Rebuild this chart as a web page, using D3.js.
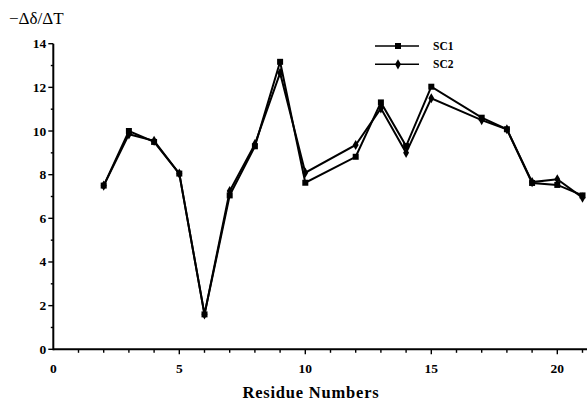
<!DOCTYPE html>
<html><head><meta charset="utf-8">
<script src="https://cdn.jsdelivr.net/npm/d3@7"></script>
<style>body{margin:0;background:#fff}svg{display:block}</style>
</head><body>
<svg id="c" width="587" height="404"></svg>
<script>
const residues = [2,3,4,5,6,7,8,9,10,12,13,14,15,17,18,19,20,21];
const sc1 = [7.5,10.0,9.5,8.05,1.6,7.05,9.3,13.17,7.63,8.82,11.31,9.31,12.03,10.61,10.08,7.62,7.53,7.05];
const sc2 = [7.5,9.85,9.55,8.05,1.6,7.25,9.4,12.66,8.09,9.36,11.04,9.0,11.5,10.5,10.08,7.66,7.79,6.95];
const xTicks = [0,5,10,15,20];
const yTicks = [0,2,4,6,8,10,12,14];
const seriesNames = ["SC1","SC2"];

const svg = d3.select("#c");
const x = d3.scaleLinear().domain([0,22]).range([53.3, 53.3+22*25.2]);
const y = d3.scaleLinear().domain([0,14]).range([349.3, 43.7]);
const serif = "'Liberation Serif','DejaVu Serif',serif";

// x axis
const xa = svg.append("g").attr("transform","translate(0,"+y(0)+")");
xa.append("line").attr("x1",x(0)).attr("x2",587).attr("stroke","#000").attr("stroke-width",2);
xa.selectAll(".mt").data(d3.range(1,22)).enter().append("line")
  .attr("x1",d=>x(d)).attr("x2",d=>x(d)).attr("y1",0).attr("y2",d=>d%5===0?5:3.5)
  .attr("stroke","#000").attr("stroke-width",1.4);
xa.selectAll("text").data(xTicks).enter().append("text")
  .attr("x",d=>x(d)).attr("y",24).attr("text-anchor","middle")
  .attr("font-family",serif).attr("font-weight","bold").attr("font-size",13.5).text(d=>d);

// y axis
const ya = svg.append("g").attr("transform","translate("+x(0)+",0)");
ya.append("line").attr("y1",y(0)+1).attr("y2",y(14)).attr("stroke","#000").attr("stroke-width",2);
ya.selectAll(".mt").data(d3.range(0,15)).enter().append("line")
  .attr("y1",d=>y(d)).attr("y2",d=>y(d)).attr("x1",d=>d%2===0?-5:-2.5).attr("x2",0)
  .attr("stroke","#000").attr("stroke-width",1.4);
ya.selectAll("text").data(yTicks).enter().append("text")
  .attr("x",-7).attr("y",d=>y(d)+4.5).attr("text-anchor","end")
  .attr("font-family",serif).attr("font-weight","bold").attr("font-size",13.5).text(d=>d);

// titles
svg.append("text").attr("x",9).attr("y",24).attr("font-family",serif).attr("font-size",17).text("\u2212\u0394\u03b4/\u0394T");
svg.append("text").attr("x",311).attr("y",398).attr("text-anchor","middle").attr("font-family",serif)
  .attr("font-weight","bold").attr("font-size",16.5).attr("letter-spacing",0.8).text("Residue Numbers");

// lines
const line = d3.line().x((d,i)=>x(residues[i])).y(d=>y(d));
[sc1,sc2].forEach(s=>{
  svg.append("path").attr("d",line(s)).attr("fill","none").attr("stroke","#000").attr("stroke-width",2);
});
const sq = d3.symbol().type(d3.symbolSquare).size(36);
const di = d3.symbol().type(d3.symbolDiamond).size(30);
svg.selectAll(".p1").data(sc1).enter().append("path").attr("d",sq)
  .attr("transform",(d,i)=>"translate("+x(residues[i])+","+y(d)+")").attr("fill","#000");
svg.selectAll(".p2").data(sc2).enter().append("path").attr("d",di)
  .attr("transform",(d,i)=>"translate("+x(residues[i])+","+y(d)+")").attr("fill","#000");

// legend
const lg = svg.append("g");
seriesNames.forEach((n,i)=>{
  const yy = 46 + i*18.3;
  lg.append("line").attr("x1",375).attr("x2",419).attr("y1",yy).attr("y2",yy).attr("stroke","#000").attr("stroke-width",1.6);
  lg.append("path").attr("d",i===0?sq:di).attr("transform","translate(398,"+yy+")").attr("fill","#000");
  lg.append("text").attr("x",433).attr("y",yy+4).attr("font-family",serif).attr("font-weight","bold")
    .attr("font-size",11.5).text(n);
});
</script>
</body></html>
